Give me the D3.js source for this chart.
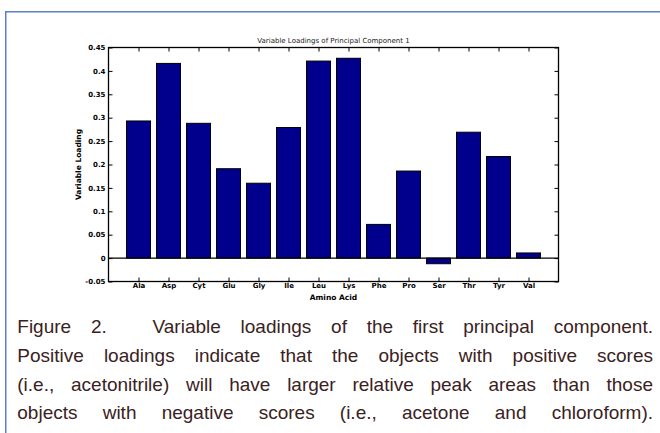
<!DOCTYPE html>
<html>
<head>
<meta charset="utf-8">
<script src="https://cdn.jsdelivr.net/npm/d3@7"></script>
<style>
  html, body { margin: 0; padding: 0; background: #fff; }
  svg { display: block; }
</style>
</head>
<body>
<svg id="fig" width="660" height="433"></svg>
<script>
// PCA loadings of the first principal component, one bar per amino acid
const categories = ["Ala","Asp","Cyt","Glu","Gly","Ile","Leu","Lys","Phe","Pro","Ser","Thr","Tyr","Val"];
const loadings   = [0.293, 0.416, 0.288, 0.191, 0.160, 0.279, 0.421, 0.427, 0.072, 0.186, -0.012, 0.269, 0.217, 0.011];
const yTicks      = [-0.05, 0, 0.05, 0.1, 0.15, 0.2, 0.25, 0.3, 0.35, 0.4, 0.45];
const yTickLabels = ["-0.05","0","0.05","0.1","0.15","0.2","0.25","0.3","0.35","0.4","0.45"];

const chartTitle = "Variable Loadings of Principal Component 1";
const xTitle = "Amino Acid";
const yTitle = "Variable Loading";

// caption, laid out as justified lines
const captionLines = [
  ["Figure", "2.", "Variable", "loadings", "of", "the", "first", "principal", "component."],
  ["Positive", "loadings", "indicate", "that", "the", "objects", "with", "positive", "scores"],
  ["(i.e.,", "acetonitrile)", "will", "have", "larger", "relative", "peak", "areas", "than", "those"],
  ["objects", "with", "negative", "scores", "(i.e.,", "acetone", "and", "chloroform)."]
];

const svg = d3.select("#fig");

// page frame
svg.append("path")
  .attr("d", "M5.75,433 V11.75 H660")
  .attr("fill", "none")
  .attr("stroke", "#5b7fc6")
  .attr("stroke-width", 1.5);

const plot = { left: 108.5, right: 558.5, top: 47.5, bottom: 281.5 };

const x = d3.scaleLinear().domain([0, categories.length + 1]).range([plot.left, plot.right]);
const y = d3.scaleLinear().domain([-0.05, 0.45]).range([plot.bottom, plot.top]);
const barW = 0.8;

const tickFont = "DejaVu Sans, Verdana, sans-serif";

// bars
svg.append("g").selectAll("rect")
  .data(loadings)
  .join("rect")
  .attr("x", (d, i) => x(i + 1 - barW / 2))
  .attr("width", x(barW) - x(0))
  .attr("y", d => y(Math.max(0, d)))
  .attr("height", d => Math.abs(y(d) - y(0)))
  .attr("fill", "#00008c")
  .attr("stroke", "#000")
  .attr("stroke-width", 1);

// baseline at zero
svg.append("line")
  .attr("x1", plot.left).attr("x2", plot.right)
  .attr("y1", y(0)).attr("y2", y(0))
  .attr("stroke", "#000").attr("stroke-width", 1.2);

const catPos = categories.map((c, i) => i + 1);

function styleAxis(g) {
  g.select(".domain").remove();
  g.selectAll(".tick line").attr("stroke", "#000").attr("stroke-width", 1);
  g.selectAll(".tick text")
    .attr("fill", "#000")
    .attr("font-family", tickFont)
    .attr("font-weight", "bold")
    .attr("font-size", 7);
}

svg.append("g")
  .attr("transform", `translate(${plot.left},0)`)
  .call(d3.axisLeft(y).tickValues(yTicks).tickFormat((d, i) => yTickLabels[i])
    .tickSizeInner(-4).tickSizeOuter(0).tickPadding(3))
  .call(styleAxis);

svg.append("g")
  .attr("transform", `translate(${plot.right},0)`)
  .call(d3.axisRight(y).tickValues(yTicks).tickFormat("")
    .tickSizeInner(-4).tickSizeOuter(0))
  .call(styleAxis);

svg.append("g")
  .attr("transform", `translate(0,${plot.bottom})`)
  .call(d3.axisBottom(x).tickValues(catPos).tickFormat((d, i) => categories[i])
    .tickSizeInner(-4).tickSizeOuter(0).tickPadding(2))
  .call(styleAxis);

svg.append("g")
  .attr("transform", `translate(0,${plot.top})`)
  .call(d3.axisTop(x).tickValues(catPos).tickFormat("")
    .tickSizeInner(-4).tickSizeOuter(0))
  .call(styleAxis);

// axes box
svg.append("rect")
  .attr("x", plot.left).attr("y", plot.top)
  .attr("width", plot.right - plot.left).attr("height", plot.bottom - plot.top)
  .attr("fill", "none").attr("stroke", "#000").attr("stroke-width", 1.3);

// titles
svg.append("text")
  .attr("x", (plot.left + plot.right) / 2).attr("y", 43)
  .attr("text-anchor", "middle")
  .attr("font-family", tickFont).attr("font-size", 7).attr("fill", "#222")
  .text(chartTitle);

svg.append("text")
  .attr("x", (plot.left + plot.right) / 2).attr("y", 300)
  .attr("text-anchor", "middle")
  .attr("font-family", tickFont).attr("font-weight", "bold").attr("font-size", 7.5)
  .text(xTitle);

svg.append("text")
  .attr("transform", `translate(81,${(plot.top + plot.bottom) / 2}) rotate(-90)`)
  .attr("text-anchor", "middle")
  .attr("font-family", tickFont).attr("font-weight", "bold").attr("font-size", 7.5)
  .text(yTitle);

// justified caption
const cap = { left: 17.3, right: 653, top: 333, step: 28.8, size: 19 };
const capG = svg.append("g")
  .attr("font-family", "Liberation Sans, Arial, sans-serif")
  .attr("font-size", cap.size)
  .attr("fill", "#3a2222");

captionLines.forEach((words, li) => {
  const baseline = cap.top + li * cap.step;
  const nodes = words.map(w => capG.append("text").attr("y", baseline).text(w));
  const widths = nodes.map(n => n.node().getComputedTextLength());
  const extra = li === 0 ? 26 : 0;   // tab after the figure number
  const gap = (cap.right - cap.left - d3.sum(widths) - extra) / (words.length - 1);
  let cx = cap.left;
  nodes.forEach((n, i) => {
    n.attr("x", cx);
    cx += widths[i] + gap + (li === 0 && i === 1 ? extra : 0);
  });
});
</script>
</body>
</html>
